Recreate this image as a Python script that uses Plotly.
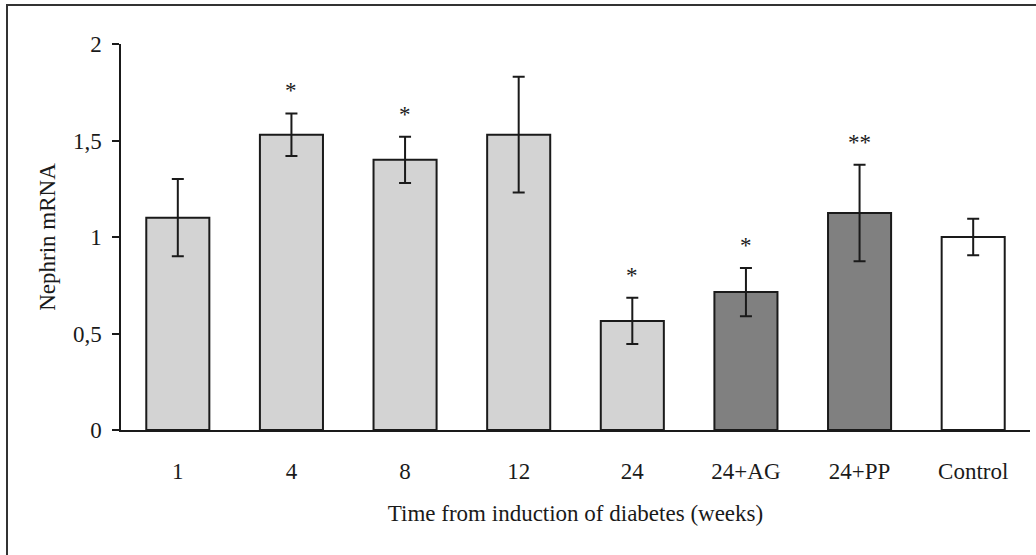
import plotly.graph_objects as go

categories = ["1", "4", "8", "12", "24", "24+AG", "24+PP", "Control"]
values = [1.10, 1.53, 1.40, 1.53, 0.565, 0.715, 1.125, 1.0]
errors = [0.20, 0.11, 0.12, 0.30, 0.12, 0.125, 0.25, 0.095]
colors = ["#d3d3d3", "#d3d3d3", "#d3d3d3", "#d3d3d3", "#d3d3d3", "#808080", "#808080", "#ffffff"]
stars = ["", "*", "*", "", "*", "*", "**", ""]
y_ticks = [0, 0.5, 1, 1.5, 2]

FONT = "Liberation Serif"
FS = 23

fig = go.Figure()
fig.add_trace(go.Bar(
    x=categories, y=values,
    marker=dict(color=colors, line=dict(color="#1a1a1a", width=2)),
    error_y=dict(type="data", array=errors, color="#1a1a1a", thickness=2, width=6),
    width=0.555,
    showlegend=False,
))

for i, (v, e, s) in enumerate(zip(values, errors, stars)):
    if s:
        fig.add_annotation(x=i, y=v + e, text=s, showarrow=False,
                           yanchor="bottom", yshift=8,
                           font=dict(family=FONT, size=FS, color="#1a1a1a"))

L, R, T, B = 121, 6, 44, 125
W, H = 1036, 555
PW, PH = W - L - R, H - T - B
fig.add_shape(type="rect", xref="paper", yref="paper",
              x0=(7 - L) / PW, x1=(1045 - L) / PW,
              y0=((H - B) - 570) / PH, y1=((H - B) - 5) / PH,
              line=dict(color="#333333", width=2), layer="below")

fig.update_layout(
    width=W, height=H,
    margin=dict(l=L, r=R, t=T, b=B),
    paper_bgcolor="white", plot_bgcolor="white",
    separators=", ",
    font=dict(family=FONT, size=FS, color="#1a1a1a"),
    xaxis=dict(
        type="category", range=[-0.5, len(categories) - 0.5],
        showline=True, linecolor="#1a1a1a", linewidth=1.5,
        ticks="", ticklabelstandoff=20, tickangle=0,
        title=dict(text="Time from induction of diabetes (weeks)", standoff=22,
                   font=dict(family=FONT, size=FS)),
        showgrid=False,
    ),
    yaxis=dict(
        range=[0, 2], tickvals=y_ticks,
        showline=True, linecolor="#1a1a1a", linewidth=1.5,
        ticks="outside", ticklen=7, tickwidth=1.5, tickcolor="#1a1a1a",
        ticklabelstandoff=6,
        title=dict(text="Nephrin mRNA", standoff=11, font=dict(family=FONT, size=FS)),
        showgrid=False, zeroline=False,
    ),
)

fig.write_html("out.html", config={"displayModeBar": False},
               post_script="document.body.style.margin='0';")
